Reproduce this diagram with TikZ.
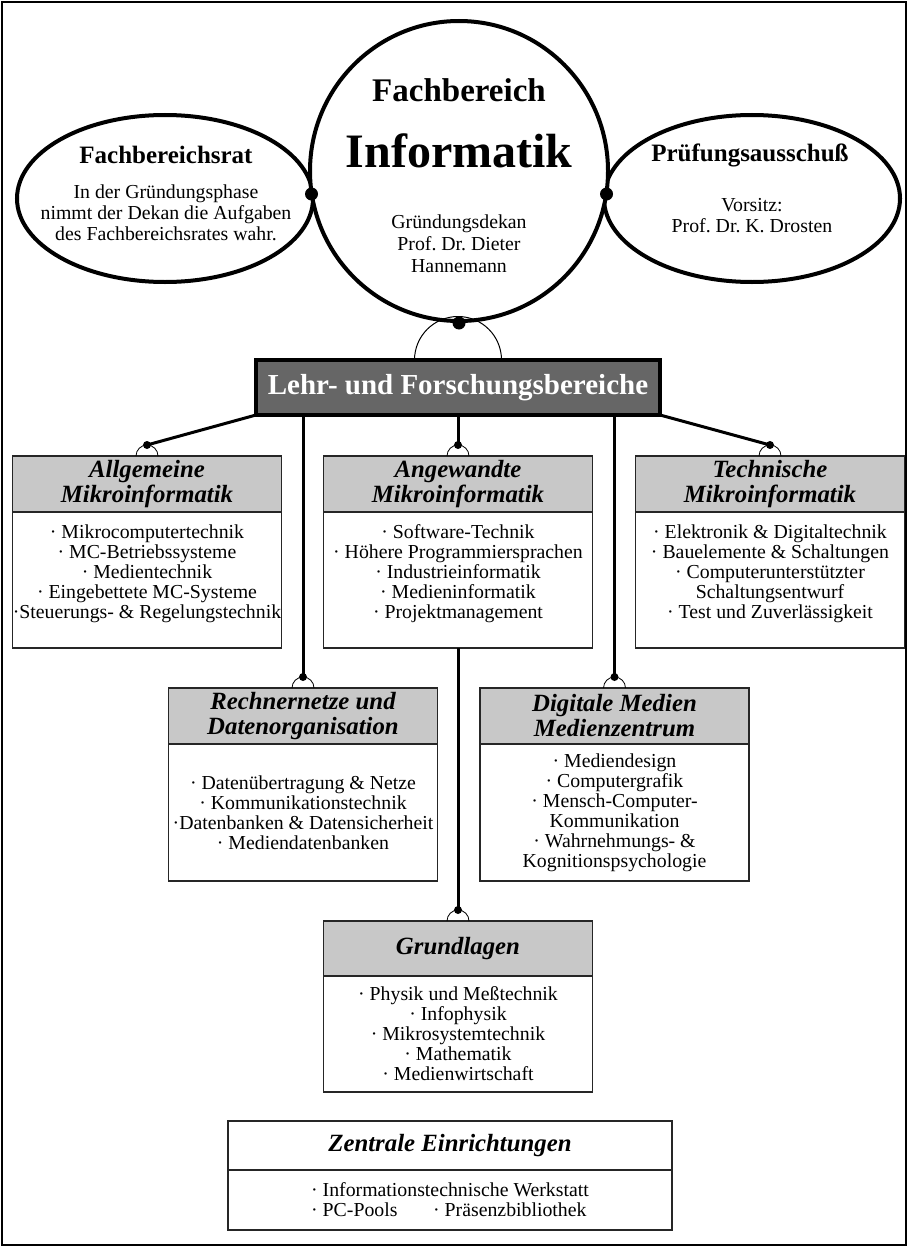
\documentclass[tikz,border=0pt]{standalone}
\usepackage{fontspec}
\setmainfont{Liberation Serif}
\usetikzlibrary{shapes.geometric,positioning}
\frenchspacing

\definecolor{headgray}{RGB}{200,200,200}
\definecolor{lehrgray}{RGB}{102,102,102}

\tikzset{
  organ/.style={ellipse, draw, line width=2pt, inner sep=0pt},
  joint/.style={circle, fill, inner sep=0pt, minimum size=6.5pt},
  pin/.style={circle, fill, inner sep=0pt, minimum size=4pt},
  head/.style={draw=black!85, fill=headgray, line width=0.7pt, outer sep=0pt,
    minimum width=134.5pt, minimum height=28pt, inner sep=0pt, align=center,
    font=\fontsize{12.4}{12.5}\selectfont\bfseries\itshape},
  list/.style={draw=black!85, line width=0.7pt, outer sep=0pt,
    minimum width=134.5pt, inner sep=0pt, align=center,
    font=\fontsize{9.9}{10}\selectfont},
  raised/.style={text depth=8pt},
  feed/.style={line width=1.5pt},
  hook/.style={line width=0.4pt},
}

\begin{document}
\begin{tikzpicture}[x=0.5pt,y=0.5pt]
  \useasboundingbox (0,0) rectangle (908,-1247);
  \draw[line width=1.2pt] (2,-2) rectangle (906,-1245);

  % Fachbereich und Gremien
  \node[organ, minimum width=148pt, minimum height=83.5pt] (rat) at (165,-198.5) {};
  \node[organ, minimum width=148pt, minimum height=83.5pt] (pa) at (752,-198.5) {};
  \node[organ, fill=white, minimum width=149pt, minimum height=150pt] (fb) at (459,-171) {};

  \node[anchor=base, font=\fontsize{16.5}{16.5}\selectfont\bfseries] (fbT) at (459,-102) {Fachbereich};
  \node[anchor=base, font=\fontsize{24}{24}\selectfont\bfseries] (infT) at (459,-167) {Informatik};
  \node[align=center, font=\fontsize{9.9}{11}\selectfont] (dekT) at (459,-244) {Gründungsdekan\\Prof. Dr. Dieter\\Hannemann};

  \node[font=\fontsize{12.5}{12.5}\selectfont\bfseries] (ratT) at (166,-155) {Fachbereichsrat};
  \node[align=center, font=\fontsize{9.9}{10.5}\selectfont] (ratB) at (166,-213) {In der Gründungsphase\\nimmt der Dekan die Aufgaben\\des Fachbereichsrates wahr.};
  \node[font=\fontsize{12.5}{12.5}\selectfont\bfseries] (paT) at (750,-155) {Prüfungsausschuß};
  \node[align=center, font=\fontsize{9.9}{10.5}\selectfont] (paB) at (752,-215.5) {Vorsitz:\\Prof. Dr. K. Drosten};

  \node[joint] (jl) at (311.5,-194) {};
  \node[joint] (jr) at (606.5,-194) {};

  % Lehr- und Forschungsbereiche
  \node[draw, fill=lehrgray, line width=2pt, outer sep=0pt, minimum width=202pt, minimum height=27.5pt,
    text=white, font=\fontsize{14.5}{14.5}\selectfont\bfseries] (lehr) at (458,-387.5) {Lehr- und Forschungsbereiche};
  \draw[line width=0.5pt] ([xshift=-21.75pt]lehr.north) arc[start angle=180, end angle=0, radius=21.75pt];
  \node[joint] (jb) at (fb.south) {};

  \node[head] (allg) at (147,-484) {Allgemeine\\Mikroinformatik};
  \node[list, raised, minimum height=68pt, below=0pt of allg] (allgB) {· Mikrocomputertechnik\\· MC-Betriebssysteme\\· Medientechnik\\· Eingebettete MC-Systeme\\·Steuerungs- \& Regelungstechnik};
  \node[head] (angw) at (458,-484) {Angewandte\\Mikroinformatik};
  \node[list, raised, minimum height=68pt, below=0pt of angw] (angwB) {· Software-Technik\\· Höhere Programmiersprachen\\· Industrieinformatik\\· Medieninformatik\\· Projektmanagement};
  \node[head] (tech) at (770,-484) {Technische\\Mikroinformatik};
  \node[list, raised, minimum height=68pt, below=0pt of tech] (techB) {· Elektronik \& Digitaltechnik\\· Bauelemente \& Schaltungen\\· Computerunterstützter\\Schaltungsentwurf\\· Test und Zuverlässigkeit};

  \node[head] (rnet) at (303,-716) {Rechnernetze und\\Datenorganisation};
  \node[list, minimum height=68.5pt, below=0pt of rnet] (rnetB) {· Datenübertragung \& Netze\\· Kommunikationstechnik\\·Datenbanken \& Datensicherheit\\· Mediendatenbanken};
  \node[head] (dmed) at (614.5,-716) {Digitale Medien\\Medienzentrum};
  \node[list, minimum height=68.5pt, below=0pt of dmed] (dmedB) {· Mediendesign\\· Computergrafik\\· Mensch-Computer-\\Kommunikation\\· Wahrnehmungs- \&\\Kognitionspsychologie};

  \node[head, minimum height=27.5pt] (grund) at (458,-948.5) {Grundlagen};
  \node[list, minimum height=58pt, below=0pt of grund] (grundB) {· Physik und Meßtechnik\\· Infophysik\\· Mikrosystemtechnik\\· Mathematik\\· Medienwirtschaft};

  \node[head, fill=white, minimum width=222pt, minimum height=24.5pt] (zent) at (450,-1145.5) {Zentrale Einrichtungen};
  \node[list, align=left, minimum width=222pt, minimum height=30pt, below=0pt of zent] (zentB) {· Informationstechnische Werkstatt\\\makebox[61pt][l]{· PC-Pools}· Präsenzbibliothek};

  % Anschluesse
  \foreach \n in {allg,angw,tech,rnet,dmed,grund}{
    \coordinate (\n P) at ([yshift=5.5pt]\n.north);
    \draw[hook] ([xshift=-5.5pt]\n.north) arc[start angle=180, end angle=0, radius=5.5pt];
  }
  \draw[feed] (lehr.south west) -- (allgP);
  \draw[feed] (lehr.south) -- (angwP);
  \draw[feed] (lehr.south east) -- (techP);
  \draw[feed] (lehr.south -| rnetP) -- (rnetP);
  \draw[feed] (lehr.south -| dmedP) -- (dmedP);
  \draw[feed] (angwB.south) -- (grundP);
  \foreach \n in {allg,angw,tech,rnet,dmed,grund}
    \node[pin] (\n Pin) at (\n P) {};
\end{tikzpicture}
\end{document}
